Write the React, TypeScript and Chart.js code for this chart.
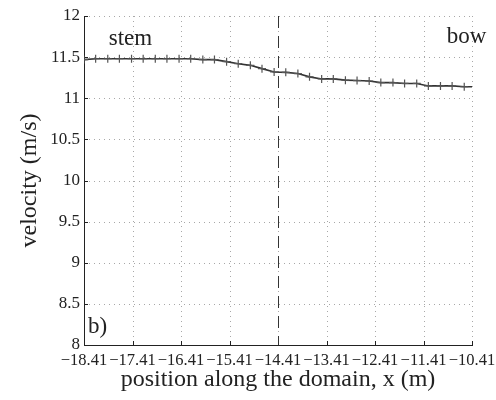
import React, { useEffect, useRef } from "react";
import { Chart, registerables } from "chart.js";

Chart.register(...registerables);

const xTickValues = [-18.41, -17.41, -16.41, -15.41, -14.41, -13.41, -12.41, -11.41, -10.41];
const yTickValues = [8, 8.5, 9, 9.5, 10, 10.5, 11, 11.5, 12];

const positions = [
  -18.41, -18.17, -17.92, -17.68, -17.43, -17.19, -16.94, -16.70, -16.45, -16.21, -15.96,
  -15.72, -15.47, -15.23, -14.98, -14.74, -14.49, -14.25, -14.00, -13.76, -13.51, -13.27,
  -13.02, -12.78, -12.53, -12.29, -12.04, -11.80, -11.55, -11.31, -11.06, -10.82, -10.57,
  -10.41,
];
const velocity = [
  11.47, 11.48, 11.48, 11.48, 11.48, 11.48, 11.48, 11.48, 11.48, 11.48, 11.47,
  11.47, 11.445, 11.42, 11.40, 11.36, 11.32, 11.315, 11.30, 11.26, 11.235, 11.235,
  11.22, 11.215, 11.21, 11.19, 11.19, 11.18, 11.18, 11.15, 11.15, 11.15, 11.14,
  11.14,
];
const stationX = -14.41;
const annotationTexts = ["stem", "bow", "b)"];
const annotationX = [-17.9, -10.93, -18.33];
const annotationY = [11.65, 11.67, 8.15];

const SERIF = '"Liberation Serif", "Times New Roman", serif';

const fmtX = (v: number) => (v < 0 ? "\u2212" : "") + Math.abs(v).toFixed(2);

const decor = {
  id: "decor",
  beforeDatasetsDraw(chart: any) {
    const { ctx, chartArea, scales } = chart;
    const { left, right, top, bottom } = chartArea;
    const xs = scales.x;
    const ys = scales.y;
    const line = (x1: number, y1: number, x2: number, y2: number) => {
      ctx.beginPath();
      ctx.moveTo(x1, y1);
      ctx.lineTo(x2, y2);
      ctx.stroke();
    };
    ctx.save();
    // dotted grid
    ctx.strokeStyle = "#a8a8a8";
    ctx.lineWidth = 1;
    ctx.setLineDash([1, 4]);
    xTickValues.forEach((v, i) => {
      if (i === 0) return;
      const px = Math.round(xs.getPixelForValue(v)) + 0.5;
      line(px, top, px, bottom);
    });
    yTickValues.forEach((v, i) => {
      if (i === 0) return;
      const py = Math.round(ys.getPixelForValue(v)) + 0.5;
      line(left, py, right, py);
    });
    // inward ticks
    ctx.setLineDash([]);
    ctx.strokeStyle = "#222";
    xTickValues.forEach((v) => {
      const px = Math.round(xs.getPixelForValue(v)) + 0.5;
      line(px, bottom, px, bottom - 4);
    });
    yTickValues.forEach((v) => {
      const py = Math.round(ys.getPixelForValue(v)) + 0.5;
      line(left, py, left + 4, py);
    });
    // dashed station line
    ctx.strokeStyle = "#333";
    ctx.setLineDash([12, 8]);
    const sx = Math.round(xs.getPixelForValue(stationX)) + 0.5;
    line(sx, top, sx, bottom);
    ctx.setLineDash([]);
    // annotations
    ctx.fillStyle = "#222";
    ctx.font = `23px ${SERIF}`;
    ctx.textBaseline = "alphabetic";
    ctx.textAlign = "left";
    annotationTexts.forEach((t, i) => {
      ctx.fillText(t, xs.getPixelForValue(annotationX[i]), ys.getPixelForValue(annotationY[i]));
    });
    ctx.restore();
  },
};

export default function App() {
  const canvasRef = useRef<HTMLCanvasElement | null>(null);

  useEffect(() => {
    const canvas = canvasRef.current;
    if (!canvas) return;
    const chart = new Chart(canvas, {
      type: "line",
      data: {
        datasets: [
          {
            data: positions.map((x, i) => ({ x, y: velocity[i] })),
            borderColor: "#333",
            borderWidth: 1.6,
            pointStyle: "cross",
            pointRadius: (c: any) => (c.dataIndex === positions.length - 1 ? 0 : 4),
            pointBorderColor: "#555",
            pointBorderWidth: 1.2,
            pointBackgroundColor: "#555",
            tension: 0,
            fill: false,
          },
        ],
      },
      options: {
        responsive: false,
        animation: false,
        layout: { padding: { top: 16, right: 24, left: 0, bottom: 0 } },
        plugins: {
          legend: { display: false },
          tooltip: { enabled: false },
        },
        scales: {
          x: {
            type: "linear",
            min: -18.41,
            max: -10.41,
            afterBuildTicks: (scale: any) => {
              scale.ticks = xTickValues.map((v) => ({ value: v }));
            },
            afterFit: (scale: any) => {
              scale.height = 55;
              scale.paddingLeft = 0;
              scale.paddingRight = 0;
            },
            grid: { display: false, drawTicks: false },
            border: { display: true, color: "#222", width: 1 },
            ticks: {
              autoSkip: false,
              maxRotation: 0,
              minRotation: 0,
              padding: 6,
              color: "#222",
              font: { family: SERIF, size: 16.5 },
              callback: (v: any) => fmtX(Number(v)),
            },
            title: {
              display: true,
              text: "position along the domain, x (m)",
              color: "#222",
              font: { family: SERIF, size: 24 },
              padding: { top: 0, bottom: 6 },
            },
          },
          y: {
            type: "linear",
            min: 8,
            max: 12,
            afterBuildTicks: (scale: any) => {
              scale.ticks = yTickValues.map((v) => ({ value: v }));
            },
            afterFit: (scale: any) => {
              scale.width = 84;
              scale.paddingTop = 0;
              scale.paddingBottom = 0;
            },
            grid: { display: false, drawTicks: false },
            border: { display: true, color: "#222", width: 1 },
            ticks: {
              padding: 4,
              color: "#222",
              font: { family: SERIF, size: 17 },
              callback: (v: any) => String(Number(v)),
            },
            title: {
              display: true,
              text: "velocity (m/s)",
              color: "#222",
              font: { family: SERIF, size: 24 },
              padding: { top: 15, bottom: 0 },
            },
          },
        },
      },
      plugins: [decor],
    } as any);
    return () => chart.destroy();
  }, []);

  return (
    <div style={{ position: "absolute", left: 0, top: 0, width: 496, height: 400, background: "#fff" }}>
      <canvas ref={canvasRef} width={496} height={400} style={{ display: "block" }} />
    </div>
  );
}
